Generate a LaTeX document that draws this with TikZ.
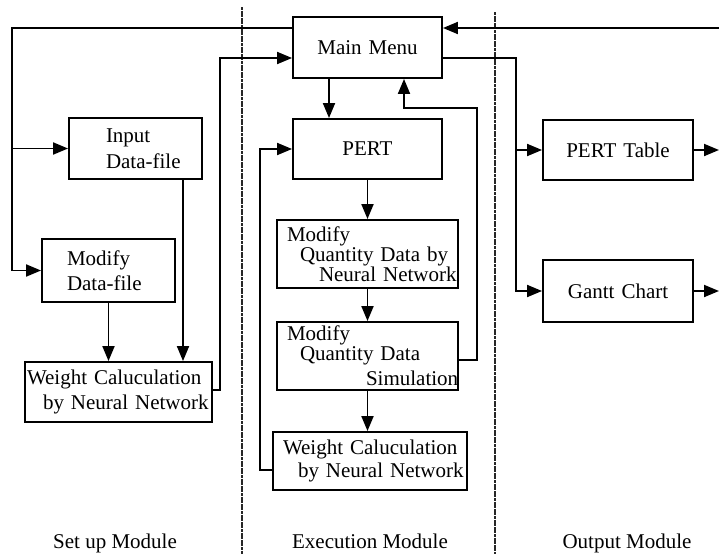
\documentclass[tikz,border=0pt]{standalone}
\usepackage{fontspec}
\setmainfont{Liberation Serif}
\usepackage{tikz}
\usetikzlibrary{arrows.meta}
\setlength{\parindent}{0pt}

\tikzset{
  box/.style={draw, line width=1.9pt, inner sep=0pt, align=left},
  flow/.style={line width=1.9pt, ->},
  divider/.style={line width=1.6pt, black!85, dash pattern=on 3pt off 0.6pt},
}

\begin{document}
\begin{tikzpicture}[x=1pt, y=-1pt, >={Triangle[length=15pt,width=12pt]},
    font=\fontsize{21}{26}\selectfont]
  \useasboundingbox (0,0) rectangle (719,554);

  % module dividers
  \draw[divider] (242,7) -- (242,554);
  \draw[divider] (495,12) -- (495,554);

  % set up module
  \node[box, text width=133pt, minimum height=61pt] (input) at (135.5,148.5)
    {\hspace*{37pt}Input\\\hspace*{37pt}\mbox{Data-file}};
  \node[box, text width=133pt, minimum height=63pt] (modf) at (108.5,270.5)
    {\hspace*{25pt}Modify\\[-1pt]\hspace*{25pt}\mbox{Data-file}};
  \node[box, text width=187pt, minimum height=60pt] (wsetup) at (118.5,392)
    {\hspace*{2pt}\mbox{Weight Caluculation}\\[-1pt]\hspace*{18pt}\mbox{by Neural Network}};

  % execution module
  \node[box, align=center, text width=149pt, minimum height=61pt] (menu) at (367.5,47.5) {Main Menu};
  \node[box, align=center, text width=149pt, minimum height=60pt] (pert) at (367.5,149) {PERT};
  \node[box, text width=181pt, minimum height=68pt] (mqnn) at (367.5,254)
    {\hspace*{10pt}Modify\\[-6pt]\hspace*{23pt}\mbox{Quantity Data by}\\[-6pt]\hspace*{42pt}\mbox{Neural Network}};
  \node[box, text width=181pt, minimum height=68pt] (mqsim) at (367.5,356)
    {\hspace*{10pt}Modify\\[-6pt]\hspace*{23pt}\mbox{Quantity Data}\\[-1pt]\hspace*{89pt}\mbox{Simulation}};
  \node[box, text width=194pt, minimum height=58pt] (wexec) at (370,461)
    {\hspace*{10pt}\mbox{Weight Caluculation}\\[-3pt]\hspace*{25pt}\mbox{by Neural Network}};

  % output module
  \node[box, align=center, text width=150pt, minimum height=60pt] (table) at (618,150) {PERT Table};
  \node[box, align=center, text width=150pt, minimum height=62pt] (gantt) at (618,291) {Gantt Chart};

  % module titles
  \node[anchor=base] (tsetup) at (115,548) {Set up Module};
  \node[anchor=base] (texec) at (370,548) {Execution Module};
  \node[anchor=base] (tout) at (627,548) {Output Module};

  % bends and free ends
  \coordinate (lbus) at (12,28);
  \coordinate (sbus) at (220,58);
  \coordinate (ebus) at (260,470);
  \coordinate (fbus) at (477,108);
  \coordinate (obus) at (516,58);
  \coordinate (rin) at (719,28);
  \coordinate (tblout) at (719,150);
  \coordinate (gntout) at (719,291);

  % connectors
  \draw[flow] (rin) -- (menu.east |- rin);
  \draw[flow] (menu.west |- lbus) -- (lbus) |- (modf.west);
  \draw[flow] (lbus |- input.west) -- (input.west);
  \draw[flow] (modf.south) -- (modf.south |- wsetup.north);
  \draw[flow] (input.south -| 183,0) -- (wsetup.north -| 183,0);
  \draw[flow] (wsetup.east |- 0,390) -| (sbus) -- (menu.west |- sbus);
  \draw[flow] (menu.south -| 329,0) -- (pert.north -| 329,0);
  \draw[flow] (wexec.west |- ebus) -- (ebus) |- (pert.west);
  \draw[flow] (pert.south) -- (mqnn.north);
  \draw[flow] (mqnn.south) -- (mqsim.north);
  \draw[flow] (mqsim.south) -- (mqsim.south |- wexec.north);
  \draw[flow] (mqsim.east |- 0,360) -| (fbus) -| (menu.south -| 404,0);
  \draw[flow] (menu.east |- obus) -- (obus) |- (gantt.west);
  \draw[flow] (obus |- table.west) -- (table.west);
  \draw[flow] (table.east) -- (tblout);
  \draw[flow] (gantt.east) -- (gntout);
\end{tikzpicture}
\end{document}
